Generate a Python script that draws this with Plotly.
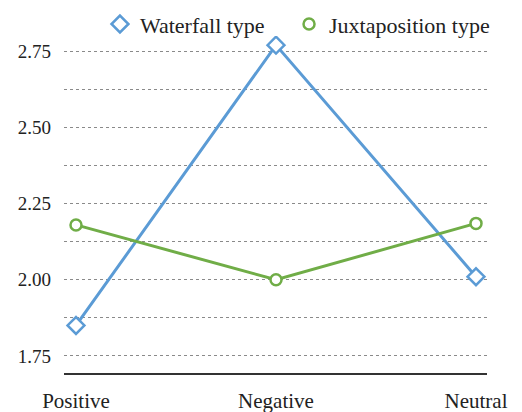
import plotly.graph_objects as go

categories = ["Positive", "Negative", "Neutral"]
waterfall = [1.85, 2.77, 2.01]
juxtaposition = [2.18, 2.00, 2.185]
series_names = ["Waterfall type", "Juxtaposition type"]

blue = "#5B9BD5"
green = "#70AD47"
font_family = "Liberation Serif"

fig = go.Figure()
for name, vals, col, sym, size, leg in [
    (series_names[0], waterfall, blue, "diamond", 13, "legend"),
    (series_names[1], juxtaposition, green, "circle", 11, "legend2"),
]:
    fig.add_trace(go.Scatter(
        x=categories, y=vals, name=name, mode="lines+markers", showlegend=False,
        line=dict(color=col, width=3),
        marker=dict(symbol=sym, size=size, color="white", line=dict(color=col, width=2.5)),
    ))
    # legend entry with marker only
    fig.add_trace(go.Scatter(
        x=[None], y=[None], name=name, mode="markers", showlegend=True, legend=leg,
        marker=dict(symbol=sym, size=size, color="white", line=dict(color=col, width=2.5)),
    ))

legend_common = dict(orientation="h", xanchor="left", y=1.035, yanchor="middle",
                     font=dict(size=22), itemwidth=30, bgcolor="rgba(0,0,0,0)")

fig.update_layout(
    width=522, height=412,
    margin=dict(l=64, r=35, t=36, b=39, autoexpand=False),
    paper_bgcolor="white", plot_bgcolor="white",
    font=dict(family=font_family, color="#222", size=19),
    showlegend=True,
    legend=dict(x=0.085, **legend_common),
    legend2=dict(x=0.532, **legend_common),
    xaxis=dict(type="category", range=[-0.06, 2.055], showgrid=False,
               showline=True, linecolor="#333", linewidth=2, ticks="",
               tickfont=dict(size=21), zeroline=False, ticklabelstandoff=8),
    yaxis=dict(range=[1.694, 2.8], tick0=1.75, dtick=0.25, tickformat=".2f",
               showgrid=True, gridcolor="#8a8a8a", gridwidth=1, griddash="3px,3px",
               minor=dict(dtick=0.125, tick0=1.75, showgrid=True, gridcolor="#8a8a8a",
                          gridwidth=1, griddash="3px,3px"),
               showline=False, zeroline=False, ticks="", ticklabelstandoff=12,
               tickfont=dict(size=19)),
)

fig.write_html("out.html", config={"displayModeBar": False},
               post_script="document.body.style.margin='0';")
